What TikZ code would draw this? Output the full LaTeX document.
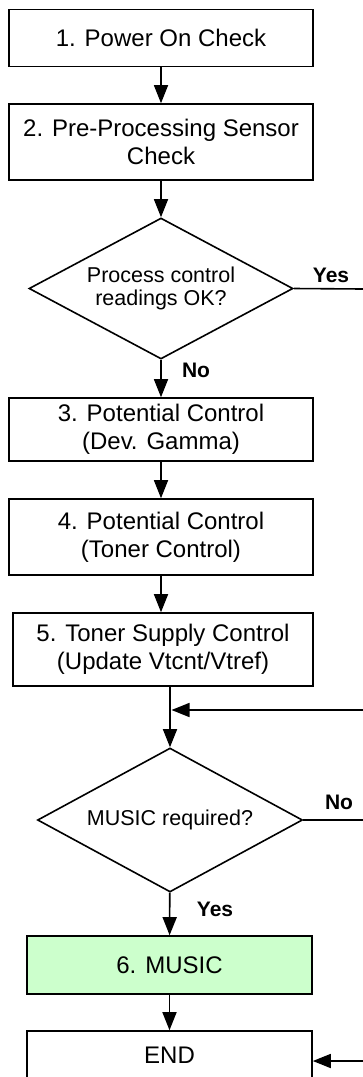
\documentclass[tikz,border=0pt]{standalone}
\usepackage{fontspec}
\setmainfont{Liberation Sans}
\usetikzlibrary{shapes.geometric,arrows.meta}
\definecolor{musicgreen}{HTML}{CCFFCC}
\begin{document}
\begin{tikzpicture}[x=1pt,y=-1pt,
  proc/.style={draw, line width=1.6pt, rectangle, align=center, inner sep=0pt, font=\fontsize{24}{28}\selectfont},
  decide/.style={draw, line width=1.6pt, diamond, align=center, inner sep=0pt, font=\fontsize{21.5}{22.5}\selectfont},
  arr/.style={line width=1.6pt, -{Triangle[length=18pt,width=14pt]}},
  conn/.style={line width=1.6pt},
  lbl/.style={font=\fontsize{21}{24}\selectfont\bfseries}]
\useasboundingbox (0,0) rectangle (363,1077);
\clip (0,0) rectangle (363,1077);
\node[proc, minimum width=304pt, minimum height=57pt] (b1) at (161,38) {1. Power On Check};
\node[proc, minimum width=304pt, minimum height=76pt] (b2) at (161,142) {2. Pre-Processing Sensor\\Check};
\node[decide, shape aspect=1.87, minimum width=264pt, minimum height=141pt] (d1) at (161,288.5) {Process control\\readings OK?};
\node[proc, minimum width=304pt, minimum height=63pt] (b3) at (161,429.5) {3. Potential Control\\(Dev. Gamma)};
\node[proc, minimum width=304pt, minimum height=76pt] (b4) at (161,537) {4. Potential Control\\(Toner Control)};
\node[proc, minimum width=300pt, minimum height=73pt] (b5) at (163,649.5) {5. Toner Supply Control\\(Update Vtcnt/Vtref)};
\node[decide, shape aspect=1.84, minimum width=265pt, minimum height=144pt] (d2) at (170,820) {MUSIC required?};
\node[proc, fill=musicgreen, minimum width=285pt, minimum height=58pt] (b6) at (169.5,965) {6. MUSIC};
\node[proc, minimum width=285pt, minimum height=48pt] (e) at (169.5,1055) {END};

\coordinate (yesend) at (363,289);
\coordinate (fb) at (363,710);
\coordinate (noend) at (363,820);
\coordinate (endin) at (363,1061);

\draw[arr] (b1) -- (b2);
\draw[arr] (b2) -- (d1);
\draw[conn] (d1.east) -- (yesend);
\node[lbl] (lyes1) at (331,275) {Yes};
\draw[arr] (d1) -- (b3);
\node[lbl] (lno1) at (196,370) {No};
\draw[arr] (b3) -- (b4);
\draw[arr] (b4.south) -- (b4.south |- b5.north);
\draw[arr] (d2.north |- b5.south) -- (d2.north);
\draw[arr, shorten >=1.5pt] (fb) -- (fb -| d2.north);
\draw[conn] (d2.east) -- (noend);
\node[lbl] (lno2) at (339,802) {No};
\draw[arr] (d2) -- (b6);
\node[lbl] (lyes2) at (215,909) {Yes};
\draw[arr] (b6) -- (e);
\draw[arr] (endin) -- (endin -| e.east);
\end{tikzpicture}
\end{document}
